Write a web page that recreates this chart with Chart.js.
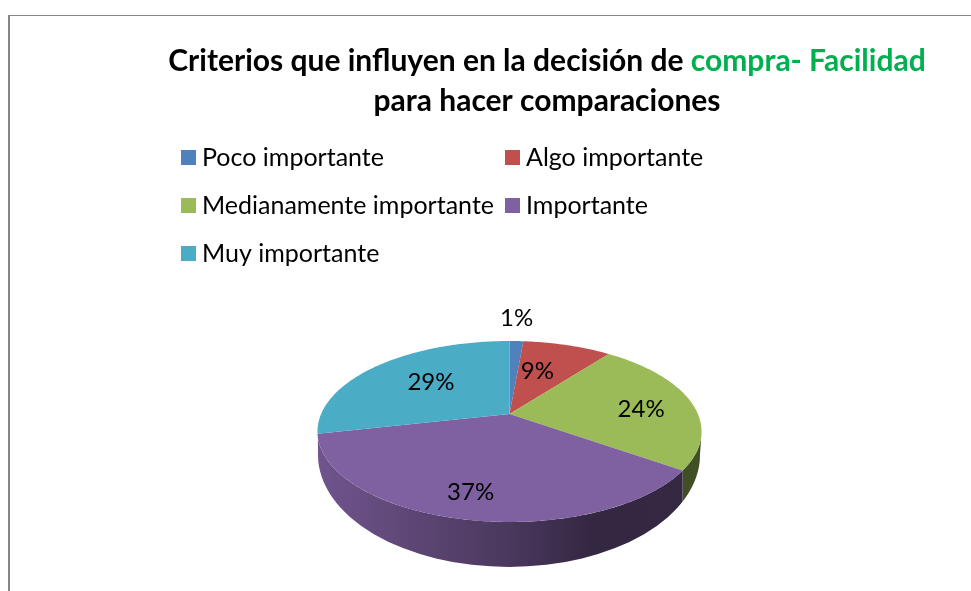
<!DOCTYPE html>
<html lang="es">
<head>
<meta charset="utf-8">
<style>html,body{margin:0;padding:0;background:#fff;overflow:hidden}canvas{display:block}</style>
<script src="https://cdn.jsdelivr.net/npm/chart.js@4"></script>
</head>
<body>
<canvas id="c" width="971" height="591"></canvas>
<script>
const categories = ["Poco importante","Algo importante","Medianamente importante","Importante","Muy importante"];
const shares = [1.4, 9.0, 24.4, 36.7, 28.5];
const colors = ["#4F81BD","#C0504D","#9BBB59","#7F60A0","#4BACC6"];
const titleLine1 = [["Criterios que influyen en la decisión de ","#000000"],["compra- Facilidad","#00B050"]];
const titleLine2 = "para hacer comparaciones";

const FONT_FAMILY = 'Lato, Carlito, sans-serif';
const P = {x0:509.5,y0:414,a:188.4,b:87.1,c:-0.193};
const RIM = {cx:509,cy:455,rx:191,ry:112};
const LABEL_LAYOUT = [[1.4,-2,0],[0.58,-8,0],[0.71,2,4],[0.78,-5,0],[0.61,5,-1]];
function shade(hex,f){const n=parseInt(hex.slice(1),16);
  return `rgb(${Math.round((n>>16&255)*f)},${Math.round((n>>8&255)*f)},${Math.round((n&255)*f)})`;}
// element angles from Chart.js start at -PI/2 for 12 o'clock, clockwise
function top3d(ang,r=1){const u=r*Math.cos(ang),v=r*Math.sin(ang),d=1+P.c*v;
  return [P.x0+P.a*u/d,P.y0+P.b*v/d];}
function samples(s,e){const n=Math.max(4,Math.ceil((e-s)*60)),o=[];
  for(let i=0;i<=n;i++)o.push(s+(e-s)*i/n);return o;}
function rimClip(ctx){
  ctx.beginPath();
  ctx.moveTo(317.5,432);ctx.lineTo(701.5,432);ctx.lineTo(RIM.cx+RIM.rx,RIM.cy);
  ctx.ellipse(RIM.cx,RIM.cy,RIM.rx,RIM.ry,0,0,Math.PI);
  ctx.closePath();ctx.clip();
}

const pie3d = {
  id:'pie3d',
  beforeDatasetDraw(chart){
    const ctx=chart.ctx, arcs=chart.getDatasetMeta(0).data;
    // side walls: the visible front part of each slice, extruded down to the rim
    ctx.save();rimClip(ctx);
    arcs.forEach((arc,i)=>{
      const s=Math.max(arc.startAngle,0.2), e=Math.min(arc.endAngle,Math.PI-0.23);
      if(e<=s) return;
      const g=ctx.createLinearGradient(318,0,700,0);
      g.addColorStop(0,shade(colors[i],.88));
      g.addColorStop(.2,shade(colors[i],.76));
      g.addColorStop(.5,shade(colors[i],.58));
      g.addColorStop(.72,shade(colors[i],.41));
      g.addColorStop(1,shade(colors[i],.42));
      const pts=samples(s,e).map(a=>top3d(a));
      ctx.beginPath();
      pts.forEach((p,k)=>{k?ctx.lineTo(p[0],p[1]):ctx.moveTo(p[0],p[1]);});
      const last=pts[pts.length-1], first=pts[0];
      ctx.lineTo(last[0],591);ctx.lineTo(first[0],591);
      ctx.closePath();ctx.fillStyle=g;ctx.fill();
    });
    ctx.restore();
    // top faces
    arcs.forEach((arc,i)=>{
      ctx.beginPath();ctx.moveTo(P.x0,P.y0);
      samples(arc.startAngle,arc.endAngle).forEach(a=>{const p=top3d(a);ctx.lineTo(p[0],p[1]);});
      ctx.closePath();ctx.fillStyle=colors[i];ctx.fill();
    });
    return false;
  },
  afterDraw(chart){
    const ctx=chart.ctx, arcs=chart.getDatasetMeta(0).data;
    ctx.save();
    // frame
    ctx.fillStyle='#868686';ctx.fillRect(8,15,963,1);ctx.fillRect(8,15,2,576);
    // title
    ctx.textBaseline='alphabetic';ctx.textAlign='left';
    ctx.font='bold 30px '+FONT_FAMILY;
    const w1=titleLine1.reduce((s,t)=>s+ctx.measureText(t[0]).width,0);
    let x=547-w1/2;
    titleLine1.forEach(t=>{ctx.fillStyle=t[1];ctx.fillText(t[0],x,71);x+=ctx.measureText(t[0]).width;});
    ctx.fillStyle='#000';ctx.textAlign='center';ctx.fillText(titleLine2,547,111);
    // legend
    ctx.font='25px '+FONT_FAMILY;ctx.textAlign='left';ctx.textBaseline='middle';
    categories.forEach((c,i)=>{
      const col=i%2,row=Math.floor(i/2),lx=col?505:181,ly=157.5+row*48;
      ctx.fillStyle=colors[i];ctx.fillRect(lx,ly-7.5,15,15);
      ctx.fillStyle='#000';ctx.fillText(c,lx+21,ly);
    });
    // data labels
    ctx.textAlign='center';ctx.font='24px '+FONT_FAMILY;
    arcs.forEach((arc,i)=>{
      const L=LABEL_LAYOUT[i];
      const p=top3d((arc.startAngle+arc.endAngle)/2,L[0]);
      ctx.fillText(Math.round(shares[i])+'%',p[0]+L[1],p[1]+L[2]);
    });
    ctx.restore();
  }
};

new Chart(document.getElementById('c'),{
  type:'pie',
  data:{labels:categories,datasets:[{data:shares,backgroundColor:colors,borderWidth:0}]},
  options:{responsive:false,animation:false,
    plugins:{legend:{display:false},title:{display:false},tooltip:{enabled:false}}},
  plugins:[pie3d]
});
</script>
</body>
</html>
